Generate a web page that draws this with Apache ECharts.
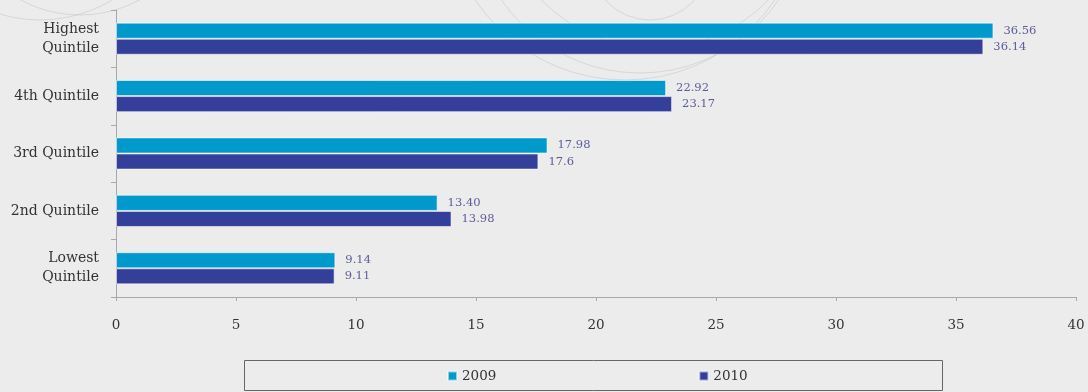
<!DOCTYPE html>
<html>
<head>
<meta charset="utf-8">
<script src="https://cdn.jsdelivr.net/npm/echarts@6/dist/echarts.min.js"></script>
<style>
  html, body { margin: 0; padding: 0; background: #ececec; }
  #chart { width: 1088px; height: 392px; }
</style>
</head>
<body>
<div id="chart"></div>
<script>
// Income share by quintile, 2009 vs 2010
const categories = ['Highest\nQuintile', '4th Quintile', '3rd Quintile', '2nd Quintile', 'Lowest\nQuintile'];
const seriesNames = ['2009', '2010'];
const values2009 = [36.56, 22.92, 17.98, 13.40, 9.14];
const values2010 = [36.14, 23.17, 17.6, 13.98, 9.11];
const labels2009 = ['36.56', '22.92', '17.98', '13.40', '9.14'];
const labels2010 = ['36.14', '23.17', '17.6', '13.98', '9.11'];
const xTicks = [0, 5, 10, 15, 20, 25, 30, 35, 40];

const serif = '"DejaVu Serif", "Liberation Serif", serif';
const colors = ['#0099cc', '#333f99'];

const chart = echarts.init(document.getElementById('chart'));

function barSeries(name, data, texts, color) {
  return {
    name: name,
    type: 'bar',
    data: data,
    barGap: '0%',
    barCategoryGap: '44%',
    itemStyle: { color: color, borderColor: 'rgba(255,255,255,0.55)', borderWidth: 1 },
    label: {
      show: true,
      position: 'right',
      distance: 10,
      fontFamily: serif,
      fontSize: 11.5,
      color: '#5c5c9c',
      formatter: p => texts[p.dataIndex]
    },
    emphasis: { disabled: true }
  };
}

// faint decorative rings in the background
const rings = [
  { cx: 625, cy: -100, r: 180 }, { cx: 640, cy: -95, r: 168 }, { cx: 655, cy: -110, r: 158 },
  { cx: 650, cy: -40, r: 60 }, { cx: 40, cy: -120, r: 140 }, { cx: 80, cy: -110, r: 125 }
].map(c => ({
  type: 'circle', silent: true, z: -10,
  shape: { cx: c.cx, cy: c.cy, r: c.r },
  style: { fill: 'none', stroke: 'rgba(150,150,160,0.25)', lineWidth: 1 }
}));

chart.setOption({
  backgroundColor: '#ececec',
  animation: false,
  color: colors,
  grid: { left: 116, right: 12, top: 10, bottom: 95, containLabel: false },
  xAxis: {
    type: 'value',
    min: 0, max: 40, interval: 5,
    axisLine: { show: true, lineStyle: { color: '#a8a8a8' } },
    axisTick: { show: true, length: 4, lineStyle: { color: '#a8a8a8' } },
    splitLine: { show: false },
    axisLabel: {
      margin: 21, fontFamily: serif, fontSize: 13.5, color: '#333',
      formatter: v => xTicks.includes(v) ? String(v) : ''
    }
  },
  yAxis: {
    type: 'category',
    data: categories,
    inverse: true,
    axisLine: { show: true, lineStyle: { color: '#a8a8a8' } },
    axisTick: { show: true, length: 5, lineStyle: { color: '#a8a8a8' } },
    axisLabel: { margin: 17, fontFamily: serif, fontSize: 14, color: '#333', lineHeight: 19 }
  },
  legend: {
    data: seriesNames,
    left: 447,
    top: 369,
    padding: 0,
    itemWidth: 9,
    itemHeight: 9,
    itemGap: 202,
    icon: 'rect',
    textStyle: { fontFamily: serif, fontSize: 13.5, color: '#333' }
  },
  graphic: rings.concat([{
    type: 'rect', silent: true,
    shape: { x: 244.5, y: 360.5, width: 698, height: 30 },
    style: { fill: 'none', stroke: '#666', lineWidth: 1 }
  }]),
  series: [
    barSeries(seriesNames[0], values2009, labels2009, colors[0]),
    barSeries(seriesNames[1], values2010, labels2010, colors[1])
  ]
});
</script>
</body>
</html>
